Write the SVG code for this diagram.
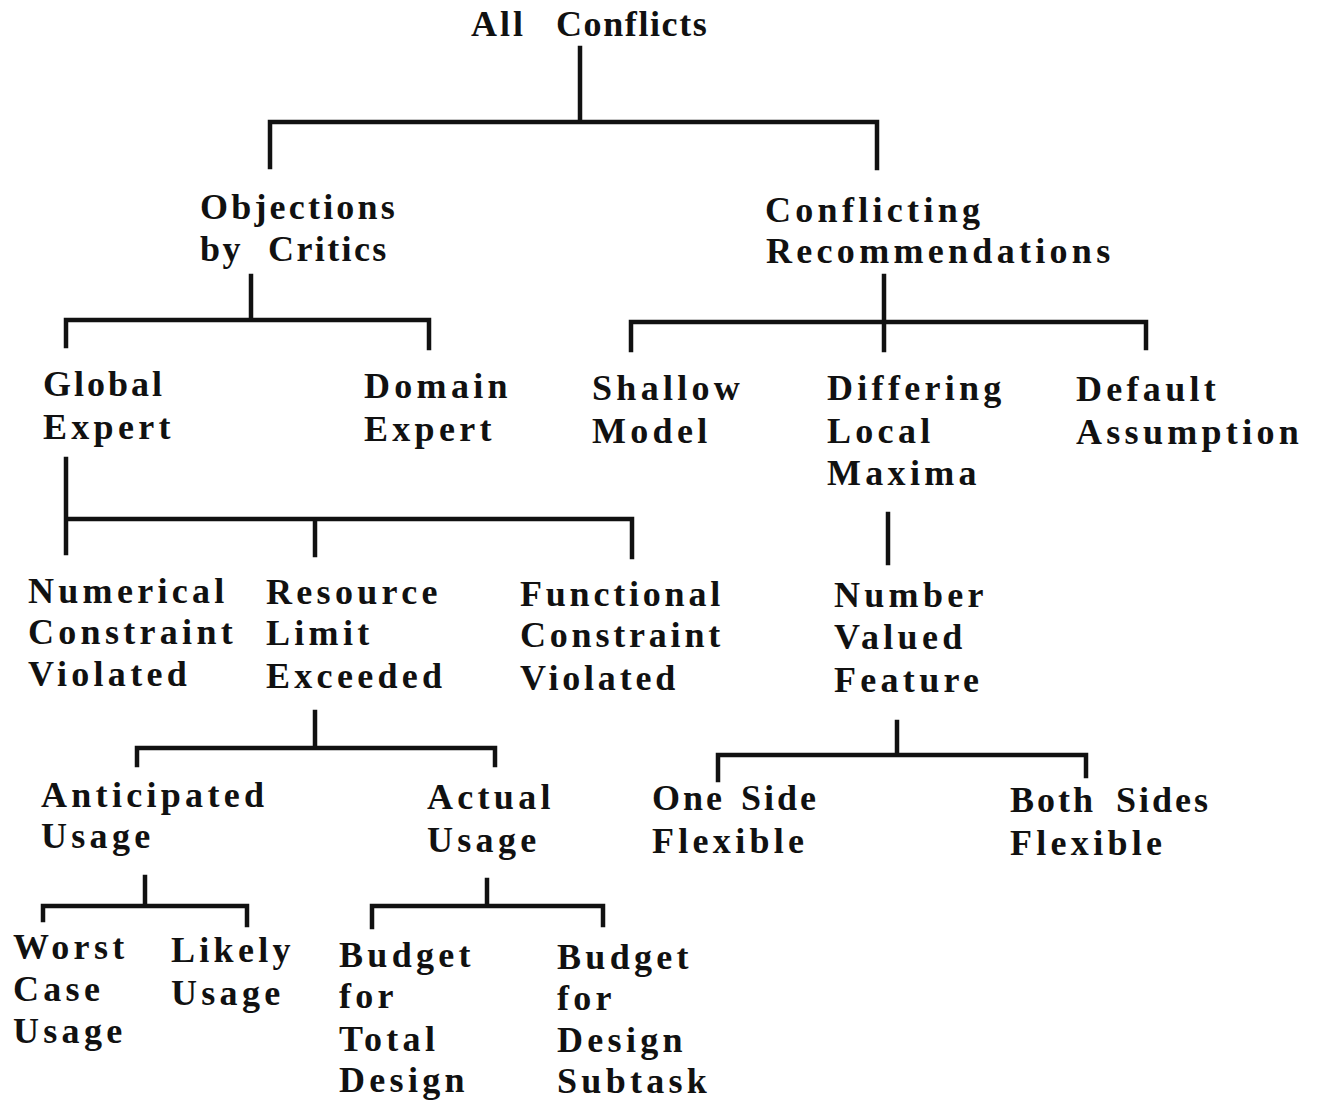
<svg xmlns="http://www.w3.org/2000/svg" width="1319" height="1100" viewBox="0 0 1319 1100">
  <style>
    .lbl { font-family: "Liberation Serif", "Times New Roman", serif; font-weight: bold; font-size: 36px; letter-spacing: 4.3px; word-spacing: 8px; fill: #111; }
    .tight { letter-spacing: 3px; }
    .wire { stroke: #111; stroke-width: 4.5; fill: none; stroke-linecap: square; stroke-linejoin: miter; }
  </style>
  <rect width="1319" height="1100" fill="#fff"/>

  <g id="connectors" class="wire">
    <!-- All Conflicts -->
    <path d="M580 48 V122 M270 167 V122 H877 V168"/>
    <!-- Objections by Critics -->
    <path d="M251 276 V320 M66 346 V320 H429 V348"/>
    <!-- Conflicting Recommendations -->
    <path d="M884 276 V350 M631 350 V322 H1146 V348"/>
    <!-- Global Expert -->
    <path d="M66 459 V553 M66 519 H632 V557 M315 519 V555"/>
    <!-- Differing Local Maxima -->
    <path d="M888 514 V563"/>
    <!-- Resource Limit Exceeded -->
    <path d="M315 712 V748 M137 765 V748 H495 V765"/>
    <!-- Number Valued Feature -->
    <path d="M897 722 V755 M718 780 V755 H1086 V776"/>
    <!-- Anticipated Usage -->
    <path d="M145 877 V906 M43 920 V906 H247 V925"/>
    <!-- Actual Usage -->
    <path d="M487 880 V906 M372 927 V906 H603 V925"/>
  </g>

  <g id="all-conflicts"><text class="lbl" y="36"><tspan x="471" style="letter-spacing:3px">All</tspan><tspan x="556" style="letter-spacing:1.6px">Conflicts</tspan></text></g>

  <g id="objections-by-critics"><text class="lbl" y="219"><tspan x="200" style="letter-spacing:3.2px">Objections</tspan><tspan x="200" dy="42" style="letter-spacing:2.4px">by</tspan><tspan x="268" style="letter-spacing:2.4px">Critics</tspan></text></g>
  <g id="conflicting-recommendations"><text class="lbl" y="222"><tspan x="765">Conflicting</tspan><tspan x="766" dy="41">Recommendations</tspan></text></g>

  <g id="global-expert"><text class="lbl" y="396"><tspan x="43" style="letter-spacing:3px">Global</tspan><tspan x="43" dy="43">Expert</tspan></text></g>
  <g id="domain-expert"><text class="lbl" y="398"><tspan x="364">Domain</tspan><tspan x="364" dy="43">Expert</tspan></text></g>
  <g id="shallow-model"><text class="lbl" y="400"><tspan x="592">Shallow</tspan><tspan x="592" dy="43">Model</tspan></text></g>
  <g id="differing-local-maxima"><text class="lbl" y="400"><tspan x="827">Differing</tspan><tspan x="827" dy="43">Local</tspan><tspan x="827" dy="42">Maxima</tspan></text></g>
  <g id="default-assumption"><text class="lbl" y="401"><tspan x="1076">Default</tspan><tspan x="1076" dy="43">Assumption</tspan></text></g>

  <g id="numerical-constraint-violated"><text class="lbl" y="603"><tspan x="28">Numerical</tspan><tspan x="28" dy="41">Constraint</tspan><tspan x="28" dy="42">Violated</tspan></text></g>
  <g id="resource-limit-exceeded"><text class="lbl" y="604"><tspan x="266">Resource</tspan><tspan x="266" dy="41">Limit</tspan><tspan x="266" dy="43">Exceeded</tspan></text></g>
  <g id="functional-constraint-violated"><text class="lbl" y="606" style="letter-spacing:3.8px"><tspan x="520">Functional</tspan><tspan x="520" dy="41">Constraint</tspan><tspan x="520" dy="43">Violated</tspan></text></g>
  <g id="number-valued-feature"><text class="lbl" y="607"><tspan x="834">Number</tspan><tspan x="834" dy="42">Valued</tspan><tspan x="834" dy="43">Feature</tspan></text></g>

  <g id="anticipated-usage"><text class="lbl" y="807"><tspan x="41">Anticipated</tspan><tspan x="41" dy="41">Usage</tspan></text></g>
  <g id="actual-usage"><text class="lbl" y="809"><tspan x="427">Actual</tspan><tspan x="427" dy="43">Usage</tspan></text></g>
  <g id="one-side-flexible"><text class="lbl" y="810"><tspan x="652" class="tight">One</tspan><tspan x="741" class="tight">Side</tspan><tspan x="652" dy="43">Flexible</tspan></text></g>
  <g id="both-sides-flexible"><text class="lbl" y="812"><tspan x="1010" class="tight">Both</tspan><tspan x="1116" class="tight">Sides</tspan><tspan x="1010" dy="43">Flexible</tspan></text></g>

  <g id="worst-case-usage"><text class="lbl" y="959"><tspan x="13">Worst</tspan><tspan x="13" dy="42">Case</tspan><tspan x="13" dy="42">Usage</tspan></text></g>
  <g id="likely-usage"><text class="lbl" y="962"><tspan x="171">Likely</tspan><tspan x="171" dy="43">Usage</tspan></text></g>
  <g id="budget-total-design"><text class="lbl" y="967"><tspan x="339">Budget</tspan><tspan x="339" dy="41">for</tspan><tspan x="339" dy="43">Total</tspan><tspan x="339" dy="41">Design</tspan></text></g>
  <g id="budget-design-subtask"><text class="lbl" y="969"><tspan x="557">Budget</tspan><tspan x="557" dy="41">for</tspan><tspan x="557" dy="42">Design</tspan><tspan x="557" dy="41">Subtask</tspan></text></g>
</svg>
